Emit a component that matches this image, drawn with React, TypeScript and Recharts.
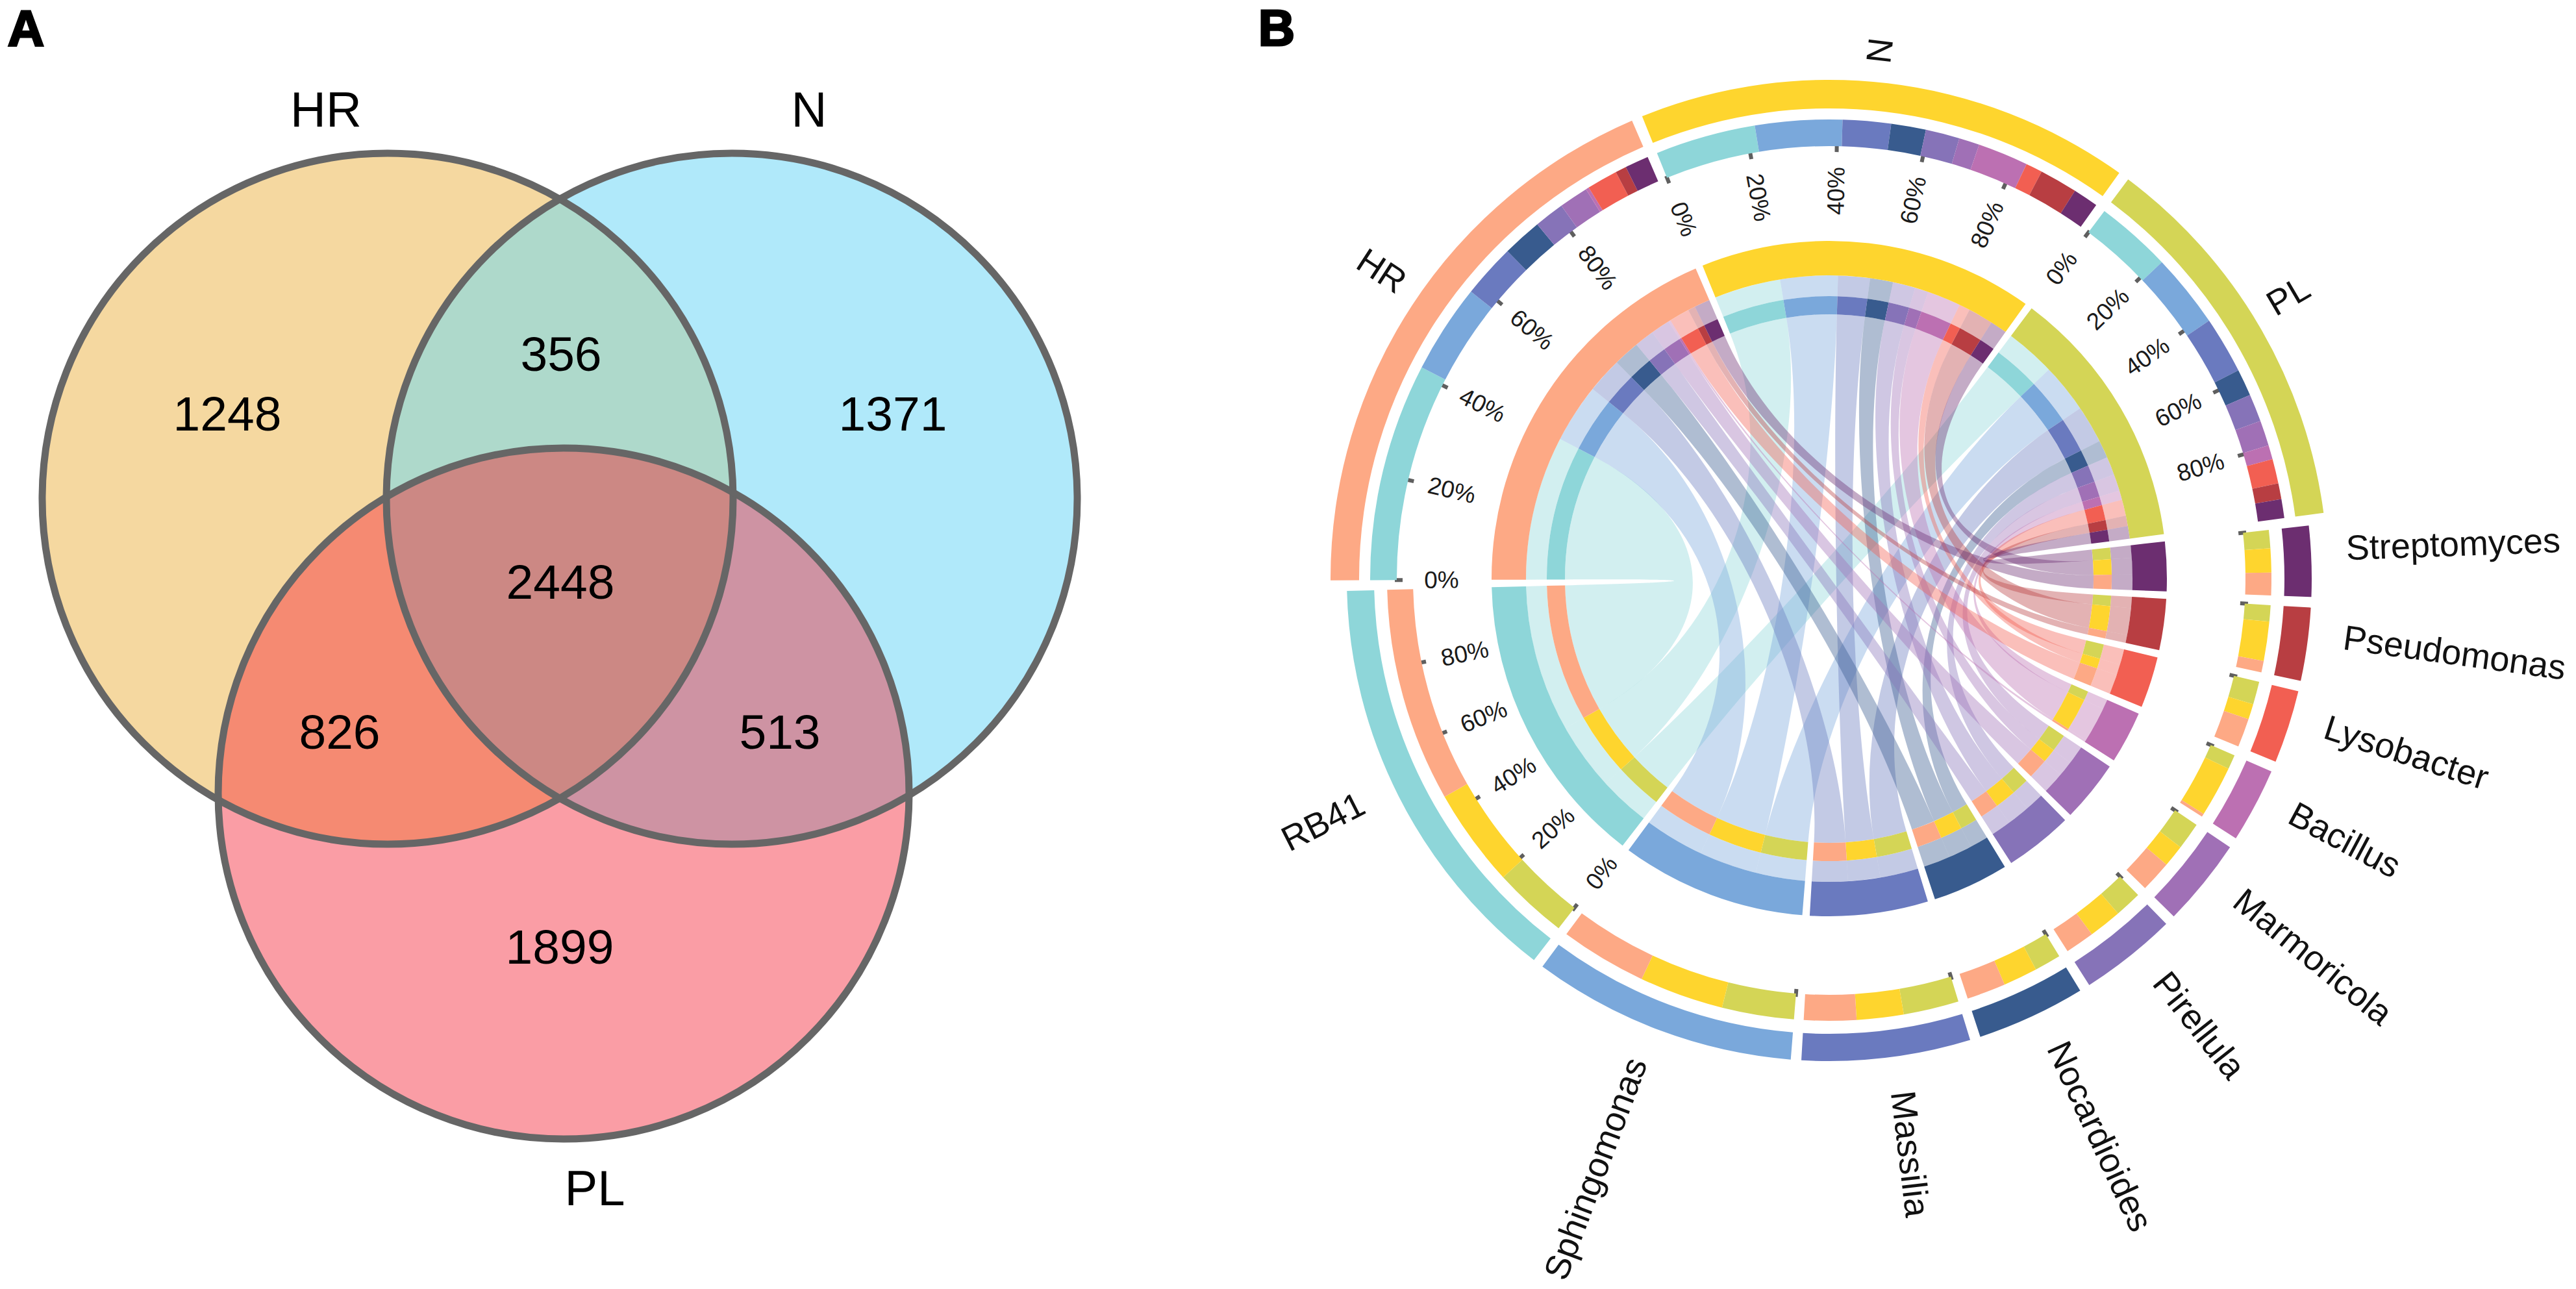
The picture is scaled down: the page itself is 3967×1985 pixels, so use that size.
import { Cell, Pie, PieChart, Scatter, ScatterChart, XAxis, YAxis } from "recharts";

const FONT = "'Liberation Sans', Arial, sans-serif";

// Panel A: Venn diagram
const vennNames = ["HR", "N", "PL"];
const vennX = [597, 1127, 868];
const vennY = [768, 768, 1222];
const vennColors = ["#F5D8A0", "#B0E9FA", "#FA9DA5"];
const vennCounts = ["1248", "356", "1371", "2448", "826", "513", "1899"];
const vennCountX = [350, 864, 1375, 863, 523, 1201, 862];
const vennCountY = [637, 545, 637, 896, 1127, 1127, 1458];
const vennLabelX = [502, 1246, 916];
const vennLabelY = [168, 168, 1829];
const VENN_R = 532;

// Panel B: chord diagram, shares of each group by genus (ring order)
const genera = [
  "RB41",
  "Sphingomonas",
  "Massilia",
  "Nocardioides",
  "Pirellula",
  "Marmoricola",
  "Bacillus",
  "Lysobacter",
  "Pseudomonas",
  "Streptomyces",
];
const genusColors = [
  "#8ED6D9",
  "#7AA8DB",
  "#6A7ABF",
  "#385B8E",
  "#8673B8",
  "#A070B6",
  "#BC70B2",
  "#F25F52",
  "#B83E42",
  "#6C2E70",
];
const genusTotals = [50.8, 31.9, 20.3, 13.1, 11.7, 10.6, 9.0, 8.8, 8.8, 8.5];
const groups = ["HR", "N", "PL"];
const groupColors = ["#FDA985", "#FED52E", "#D4D556"];
const hrFlows = [27.6, 11.3, 6.8, 5.0, 3.8, 3.7, 0.4, 3.9, 1.4, 3.0];
const nFlows = [12.7, 11.0, 6.1, 4.4, 4.3, 2.6, 6.4, 2.1, 4.8, 3.2];
const plFlows = [9.6, 9.4, 7.2, 3.4, 3.5, 3.2, 1.8, 3.1, 2.0, 2.4];
const flows = [hrFlows, nFlows, plFlows];
const percentTicks = [0, 20, 40, 60, 80];

const CX = 967;
const CY = 891;
const START_ANGLE = 180.2;
const sum = (a: number[]) => a.reduce((t, v) => t + v, 0);

// nodes run clockwise: HR, N, PL, then the genera from Streptomyces back to RB41
type Part = { name: string; value: number; color: string; ribbon: string };
type Node = { name: string; total: number; parts: Part[]; isGroup: boolean; color: string; start: number; end: number };

const rawNodes = [
  ...groups.map((name, g) => ({
    name,
    isGroup: true,
    color: groupColors[g],
    total: sum(flows[g]),
    parts: flows[g].map((value, j) => ({ name: genera[j], value, color: genusColors[j], ribbon: genusColors[j] })),
  })),
  ...genera
    .map((name, j) => ({
      name,
      isGroup: false,
      color: genusColors[j],
      total: genusTotals[j],
      parts: [2, 1, 0].map((g) => ({ name: groups[g], value: flows[g][j], color: groupColors[g], ribbon: genusColors[j] })),
    }))
    .reverse(),
];
const GAP = (360 - sum(rawNodes.map((n) => n.total))) / rawNodes.length;

let cursor = START_ANGLE;
const nodes: Node[] = rawNodes.map((n) => {
  const node = { ...n, start: cursor, end: cursor - n.total };
  cursor -= n.total + GAP;
  return node;
});

const polar = (angle: number, r: number) => {
  const rad = (angle * Math.PI) / 180;
  return { x: CX + r * Math.cos(rad), y: CY - r * Math.sin(rad) };
};

function partRange(node: Node, name: string) {
  const scale = node.total / sum(node.parts.map((p) => p.value));
  let a = node.start;
  for (const p of node.parts) {
    if (p.name === name) return [a, a - p.value * scale];
    a -= p.value * scale;
  }
  return [a, a];
}

function ribbonPath(a0: number, a1: number, b0: number, b1: number) {
  const R = 407;
  const k = 0.45;
  const p = (a: number, r = R) => {
    const q = polar(a, r);
    return `${q.x.toFixed(1)} ${q.y.toFixed(1)}`;
  };
  return [
    `M${p(a0)}`,
    `A${R} ${R} 0 0 1 ${p(a1)}`,
    `C${p(a1, R * k)} ${p(b0, R * k)} ${p(b0)}`,
    `A${R} ${R} 0 0 1 ${p(b1)}`,
    `C${p(b1, R * k)} ${p(a0, R * k)} ${p(a0)}`,
    "Z",
  ].join(" ");
}

function Ribbons() {
  return (
    <g>
      {genera.map((genus, j) =>
        groups.map((group) => {
          const groupNode = nodes.find((n) => n.name === group)!;
          const genusNode = nodes.find((n) => n.name === genus)!;
          const [a0, a1] = partRange(groupNode, genus);
          const [b0, b1] = partRange(genusNode, group);
          return (
            <path
              key={`${genus}-${group}`}
              d={ribbonPath(a0, a1, b0, b1)}
              fill={genusColors[j]}
              fillOpacity={0.4}
            />
          );
        }),
      )}
    </g>
  );
}

function radialTransform(angle: number, r: number) {
  const { x, y } = polar(angle, r);
  const right = Math.cos((angle * Math.PI) / 180) >= 0;
  return { x, y, right, transform: `rotate(${right ? -angle : 180 - angle} ${x} ${y})` };
}

function PercentTicks() {
  return (
    <g>
      {nodes.map((node) => {
        const labelled = node.isGroup || node.name === "RB41";
        const ticks = labelled ? percentTicks : [0];
        const tickOuter = node.isGroup ? 669 : 646;
        return ticks.map((pct) => {
          const angle = node.start - (node.total * pct) / 100;
          const a = polar(angle, tickOuter);
          const b = polar(angle, tickOuter - 12);
          const t = radialTransform(angle, node.isGroup ? 597 : 573);
          return (
            <g key={`${node.name}-${pct}`}>
              <line x1={a.x} y1={a.y} x2={b.x} y2={b.y} stroke="#5F5F5F" strokeWidth={6} />
              {labelled && (
                <text
                  x={t.x}
                  y={t.y}
                  transform={t.transform}
                  textAnchor="middle"
                  dominantBaseline="central"
                  fontFamily={FONT}
                  fontSize={37}
                  fill="#1a1a1a"
                >
                  {pct}%
                </text>
              )}
            </g>
          );
        });
      })}
    </g>
  );
}

function NodeLabels() {
  return (
    <g>
      {nodes.map((node) => {
        const t = radialTransform((node.start + node.end) / 2, 797);
        return (
          <text
            key={node.name}
            x={t.x}
            y={t.y}
            transform={t.transform}
            textAnchor={t.right ? "start" : "end"}
            fontFamily={FONT}
            fontSize={54}
            fill="#111"
          >
            {node.name}
          </text>
        );
      })}
    </g>
  );
}

function partRing(radii: (n: Node) => number[], band = false) {
  return nodes.map((node) => (
    <Pie
      key={`${node.name}-parts-${radii(node)[0]}`}
      data={node.parts}
      dataKey="value"
      nameKey="name"
      cx={CX}
      cy={CY}
      innerRadius={radii(node)[0]}
      outerRadius={radii(node)[1]}
      startAngle={node.start}
      endAngle={node.end}
      stroke="none"
      isAnimationActive={false}
    >
      {node.parts.map((p) => (
        <Cell key={p.name} fill={band ? p.ribbon : p.color} fillOpacity={band ? 0.4 : 1} />
      ))}
    </Pie>
  ));
}

function nodeRing(radii: (n: Node) => number[]) {
  return nodes.map((node) => (
    <Pie
      key={`${node.name}-node-${radii(node)[0]}`}
      data={[node]}
      dataKey="total"
      nameKey="name"
      cx={CX}
      cy={CY}
      innerRadius={radii(node)[0]}
      outerRadius={radii(node)[1]}
      startAngle={node.start}
      endAngle={node.end}
      stroke="none"
      isAnimationActive={false}
    >
      <Cell fill={node.color} />
    </Pie>
  ));
}

const vennCircles = vennNames.map((name, i) => ({ name, x: vennX[i], y: vennY[i], i }));
const vennCountPoints = vennCounts.map((label, i) => ({ label, x: vennCountX[i], y: vennCountY[i] }));
const vennLabelPoints = vennNames.map((label, i) => ({ label, x: vennLabelX[i], y: vennLabelY[i] }));
const panelLetters = [{ label: "A", x: 40, y: 44 }];

const circleShape = (props: any) => (
  <g>
    <clipPath id={`venn-${props.payload.name}`}>
      <circle cx={props.cx} cy={props.cy} r={VENN_R} />
    </clipPath>
    <circle cx={props.cx} cy={props.cy} r={VENN_R} fill={vennColors[props.payload.i]} />
  </g>
);

// overlaps: circle drawn, clipped by the others
const overlapShape = (fill: string, clips: string[]) => (props: any) => {
  let el = <circle cx={props.cx} cy={props.cy} r={VENN_R} fill={fill} />;
  clips.forEach((c) => {
    el = <g clipPath={`url(#venn-${c})`}>{el}</g>;
  });
  return el;
};

const outlineShape = (props: any) => (
  <circle cx={props.cx} cy={props.cy} r={VENN_R} fill="none" stroke="#666666" strokeWidth={11} />
);

const textShape = (size: number, weight = "normal") => (props: any) => (
  <text
    x={props.cx}
    y={props.cy}
    textAnchor="middle"
    dominantBaseline="central"
    fontFamily={FONT}
    fontSize={size}
    fontWeight={weight}
    fill="#000"
    stroke={weight === "bold" ? "#000" : "none"}
    strokeWidth={weight === "bold" ? 3 : 0}
  >
    {props.payload.label}
  </text>
);

export default function App() {
  return (
    <div style={{ position: "absolute", left: 0, top: 0, width: 3967, height: 1985, background: "#fff" }}>
      <div style={{ position: "absolute", left: 0, top: 0 }}>
        <ScatterChart width={1850} height={1985} margin={{ top: 0, right: 0, bottom: 0, left: 0 }}>
          <XAxis type="number" dataKey="x" domain={[0, 1850]} hide />
          <YAxis type="number" dataKey="y" domain={[0, 1985]} reversed hide />
          <Scatter data={vennCircles} shape={circleShape} isAnimationActive={false} />
          <Scatter data={[vennCircles[1]]} shape={overlapShape("#AED9CB", ["HR"])} isAnimationActive={false} />
          <Scatter data={[vennCircles[2]]} shape={overlapShape("#F58A72", ["HR"])} isAnimationActive={false} />
          <Scatter data={[vennCircles[2]]} shape={overlapShape("#CE93A3", ["N"])} isAnimationActive={false} />
          <Scatter data={[vennCircles[2]]} shape={overlapShape("#CC8884", ["HR", "N"])} isAnimationActive={false} />
          <Scatter data={vennCircles} shape={outlineShape} isAnimationActive={false} />
          <Scatter data={vennCountPoints} shape={textShape(75)} isAnimationActive={false} />
          <Scatter data={vennLabelPoints} shape={textShape(76)} isAnimationActive={false} />
          <Scatter data={panelLetters} shape={textShape(78, "bold")} isAnimationActive={false} />
        </ScatterChart>
      </div>
      <div style={{ position: "absolute", left: 1850, top: 0 }}>
        <PieChart width={2117} height={1985} margin={{ top: 0, right: 0, bottom: 0, left: 0 }}>
          <Ribbons />
          {partRing(() => [435, 467], true)}
          {nodeRing((n) => (n.isGroup ? [724, 768] : [701, 743]))}
          {partRing((n) => (n.isGroup ? [666, 707] : [641, 681]))}
          {nodeRing(() => [467, 520])}
          {partRing(() => [407, 435])}
          <PercentTicks />
          <NodeLabels />
          <text x={116} y={43} textAnchor="middle" dominantBaseline="central" fontFamily={FONT} fontSize={78} fontWeight="bold" stroke="#000" strokeWidth={3}>
            B
          </text>
        </PieChart>
      </div>
    </div>
  );
}
